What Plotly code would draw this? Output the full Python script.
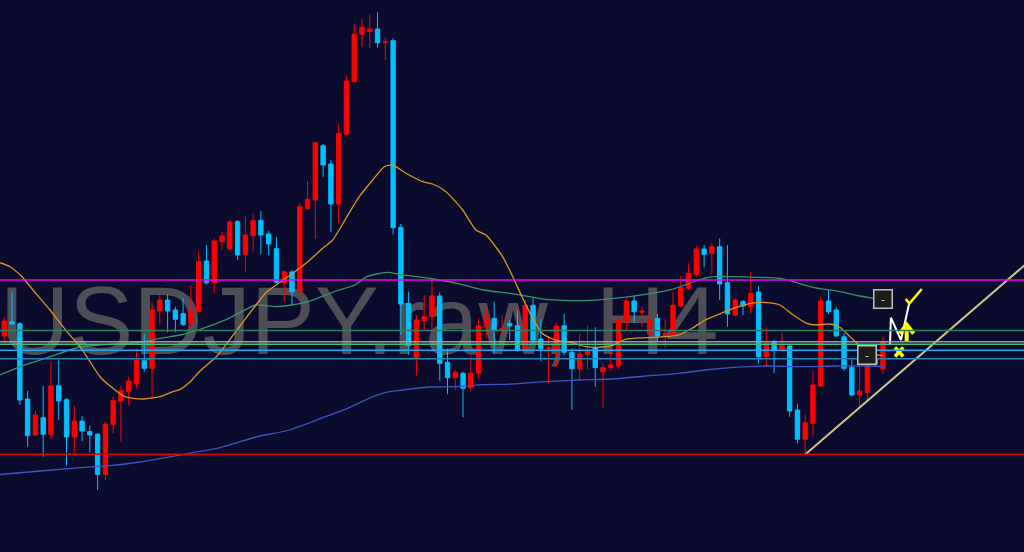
import plotly.graph_objects as go

# ---------------- data ----------------
opens = [148.640,148.783,148.763,148.010,147.650,147.823,147.657,148.143,148.003,147.630,
         147.790,147.683,147.657,147.257,147.757,147.990,148.083,148.160,148.393,148.317,
         148.890,149.000,148.900,148.863,148.767,148.883,149.390,149.173,149.583,149.513,
         149.783,149.457,149.643,149.797,149.660,149.513,149.173,149.280,149.083,149.917,
         150.000,150.543,150.360,149.960,150.660,151.183,151.657,151.683,151.710,151.573,
         151.593,149.727,148.967,148.417,148.793,148.833,149.040,148.377,148.223,148.267,
         148.123,148.267,148.740,148.817,148.700,148.767,148.743,148.500,148.947,148.610,
         148.513,148.517,148.743,148.477,148.310,148.457,148.523,148.283,148.323,148.340,
         148.793,148.990,148.877,148.660,148.817,148.640,148.650,148.940,149.117,149.257,
         149.510,149.467,149.533,149.173,148.850,148.983,148.933,149.080,148.433,148.577,
         148.510,148.540,147.900,147.607,147.767,148.140,148.990,148.900,148.633,148.327,
         148.050,148.077,148.420,148.310]
highs = [148.823,149.083,148.780,148.093,147.890,148.140,148.390,148.397,148.020,147.940,
         147.840,147.743,147.670,147.783,148.033,148.143,148.233,148.510,148.660,148.977,
         149.067,149.057,148.933,149.020,149.150,149.483,149.550,149.617,149.683,149.800,
         149.800,149.840,149.867,149.890,149.690,149.630,149.293,149.300,149.973,150.190,
         150.580,150.560,150.400,150.757,151.250,151.757,151.810,151.857,151.877,151.627,
         151.617,149.760,149.083,148.850,149.050,149.210,149.077,148.517,148.300,148.283,
         148.433,148.817,148.917,148.983,148.850,148.800,148.900,149.000,149.023,148.807,
         148.640,148.767,148.860,148.517,148.660,148.740,148.727,148.373,148.550,148.827,
         149.027,149.040,148.933,148.927,148.860,148.807,149.083,149.240,149.367,149.540,
         149.550,149.567,149.617,149.550,149.017,149.000,149.283,149.140,148.727,148.600,
         148.673,148.550,147.960,147.850,148.290,149.033,149.100,148.927,148.667,148.407,
         148.367,148.517,148.480,148.633]
lows = [148.573,148.750,147.950,147.533,147.640,147.433,147.610,147.800,147.343,147.457,
        147.590,147.473,147.100,147.200,147.667,147.583,147.950,148.123,148.283,148.017,
        148.757,148.677,148.677,148.740,148.690,148.875,149.157,149.067,149.500,149.500,
        149.400,149.273,149.483,149.457,149.450,149.167,148.983,148.950,149.000,149.900,
        149.610,150.233,149.680,149.767,150.650,151.177,151.533,151.517,151.523,151.400,
        149.657,148.650,148.450,148.243,148.710,148.700,148.193,148.057,148.100,147.827,
        148.083,148.217,148.617,148.467,148.650,148.600,148.483,148.483,148.573,148.390,
        148.167,148.333,148.450,147.900,148.200,148.307,148.133,147.923,148.293,148.310,
        148.700,148.773,148.733,148.617,148.583,148.517,148.640,148.927,149.100,149.233,
        149.327,149.267,149.000,148.733,148.833,148.850,148.867,148.367,148.333,148.267,
        148.483,147.833,147.567,147.460,147.650,148.133,148.860,148.633,148.293,148.033,
        147.940,148.000,148.340,148.260]
closes = [148.790,148.760,148.000,147.643,147.850,147.657,148.140,147.990,147.630,147.790,
          147.690,147.650,147.257,147.760,147.993,148.093,148.190,148.397,148.317,148.900,
          149.000,148.890,148.807,148.757,148.890,149.383,149.173,149.590,149.640,149.780,
          149.450,149.650,149.793,149.650,149.560,149.177,149.283,149.083,149.933,150.007,
          150.573,150.350,149.960,150.667,151.190,151.657,151.727,151.710,151.573,151.583,
          149.723,148.960,148.543,148.800,148.833,149.040,148.367,148.223,148.277,148.117,
          148.267,148.743,148.817,148.697,148.717,148.740,148.500,148.947,148.600,148.517,
          148.523,148.740,148.477,148.313,148.460,148.490,148.323,148.323,148.350,148.800,
          148.990,148.883,148.890,148.810,148.640,148.667,148.947,149.123,149.267,149.510,
          149.457,149.533,149.160,148.860,149.000,148.940,149.067,148.433,148.567,148.500,
          148.550,147.890,147.607,147.773,148.150,148.990,148.883,148.640,148.317,148.050,
          148.090,148.400,148.360,148.583]
bars = list(range(len(opens)))

# moving averages (bar position, value)
ma_fast_x = [-0.55,0.73,2.28,3.69,5.88,8.06,9.73,11.02,12.31,13.98,15.52,17.71,20.02,21.69,22.60,
             23.88,25.17,27.35,30.31,32.37,33.65,36.61,38.80,40.95,42.23,43.94,45.65,47.38,48.87,
             49.95,51.66,53.81,55.09,56.80,58.95,60.66,61.95,64.09,65.29,66.58,67.86,69.15,70.86,
             73.01,74.72,76.44,78.15,79.86,82.43,85.01,86.73,88.44,90.15,91.87,94.45,96.58,98.21,
             99.76,101.47,103.19,104.48,106.19,107.47,108.76,110.05,111.33,113.0]
ma_fast_y = [149.373,149.333,149.233,149.100,148.900,148.683,148.533,148.383,148.233,148.117,148.033,
             148.010,148.033,148.083,148.107,148.180,148.290,148.440,148.740,148.950,149.073,149.240,
             149.367,149.517,149.600,149.817,150.033,150.200,150.333,150.350,150.267,150.183,150.160,
             150.083,149.900,149.700,149.650,149.433,149.250,149.033,148.833,148.667,148.600,148.573,
             148.533,148.527,148.543,148.607,148.623,148.633,148.650,148.717,148.800,148.857,148.933,
             148.973,148.973,148.950,148.850,148.767,148.750,148.760,148.727,148.633,148.540,148.467,
             148.443]
ma_mid_x = [-0.55,2.02,5.88,9.73,13.59,17.45,20.02,22.60,25.17,28.60,32.37,34.81,36.96,39.09,42.66,
            45.10,46.61,49.18,50.89,55.17,58.18,61.60,65.03,67.60,69.57,74.72,78.15,82.43,85.87,
            89.30,91.14,93.75,96.58,99.76,101.47,104.04,107.47,110.05,111.76,113.0]
ma_mid_y = [148.250,148.333,148.433,148.530,148.557,148.575,148.617,148.650,148.707,148.807,148.950,
            148.933,148.950,148.983,149.090,149.150,149.233,149.277,149.257,149.210,149.167,149.100,
            149.067,149.033,149.007,148.993,149.013,149.057,149.107,149.200,149.233,149.233,149.227,
            149.217,149.183,149.127,149.083,149.040,149.017,149.005]
ma_slow_x = [-0.55,4.59,9.73,13.59,17.45,22.60,27.74,32.37,36.65,40.95,44.37,47.38,49.51,51.23,54.66,
             58.09,61.52,65.29,69.57,73.86,78.15,82.43,86.73,90.15,93.75,98.04,102.33,106.61,110.90,113.0]
ma_slow_y = [147.255,147.290,147.323,147.343,147.380,147.450,147.523,147.630,147.700,147.823,147.923,
             148.033,148.083,148.100,148.130,148.133,148.153,148.160,148.183,148.200,148.210,148.240,
             148.267,148.300,148.327,148.340,148.333,148.340,148.340,148.335]

# horizontal levels
hline_prices = [149.200, 148.695, 148.583, 148.557, 148.497, 148.412, 147.457]
hline_colors = ["#ee00ee", "#2e8060", "#9e9e9e", "#3fc07a", "#1eaaf0", "#1f87b5", "#e00000"]

# trend line (bar, price)
trend_x = [103, 132]
trend_y = [147.455, 149.400]

# drawn objects near the last bars (bar, price)
zig_x = [113.91, 114.02, 115.32, 116.40]
zig_y = [148.560, 148.823, 148.600, 148.975]
check_x = [115.93, 116.40, 118.0]
check_y = [149.010, 148.965, 149.110]
arrow_shaft_x = [116.05, 116.05]
arrow_shaft_y = [148.583, 148.740]
arrow_head_x = [115.15, 116.05, 116.95]
arrow_head_y = [148.665, 148.752, 148.665]
cross_x = [114.55, 115.60]
cross_y = [148.527, 148.435]
boxes_x = [113.0, 111.0]
boxes_y = [149.010, 148.455]

watermark = "USDJPY.raw, H4"

BG = "#0b0b2e"
UP = "#ff0000"
DN = "#00bfff"

fig = go.Figure()

# watermark on base axes (drawn below everything else)
fig.add_trace(go.Scatter(x=[0], y=[0.402], mode="text", text=[watermark],
                         textposition="middle right",
                         textfont=dict(family="Liberation Sans, Arial", size=96, color="#4e4e57"),
                         hoverinfo="skip", xaxis="x", yaxis="y"))

fig.add_trace(go.Candlestick(x=bars, open=opens, high=highs, low=lows, close=closes,
                             increasing=dict(line=dict(color=UP, width=1), fillcolor=UP),
                             decreasing=dict(line=dict(color=DN, width=1), fillcolor=DN),
                             whiskerwidth=0, hoverinfo="skip", xaxis="x2", yaxis="y2"))

for xs, ys, col in [(ma_slow_x, ma_slow_y, "#3a55c0"),
                    (ma_mid_x, ma_mid_y, "#34946a"),
                    (ma_fast_x, ma_fast_y, "#d8961e")]:
    fig.add_trace(go.Scatter(x=xs, y=ys, mode="lines",
                             line=dict(color=col, width=1.3, shape="spline", smoothing=0.6),
                             hoverinfo="skip", xaxis="x2", yaxis="y2"))

fig.add_trace(go.Scatter(x=trend_x, y=trend_y, mode="lines",
                         line=dict(color="#cdc48c", width=2), hoverinfo="skip",
                         xaxis="x2", yaxis="y2"))

fig.add_trace(go.Scatter(x=zig_x, y=zig_y, mode="lines", line=dict(color="#ffffff", width=2),
                         hoverinfo="skip", xaxis="x2", yaxis="y2"))
fig.add_trace(go.Scatter(x=check_x, y=check_y, mode="lines", line=dict(color="#ffff00", width=2.5),
                         hoverinfo="skip", xaxis="x2", yaxis="y2"))
fig.add_trace(go.Scatter(x=arrow_shaft_x, y=arrow_shaft_y, mode="lines",
                         line=dict(color="#ffff00", width=4), hoverinfo="skip",
                         xaxis="x2", yaxis="y2"))
fig.add_trace(go.Scatter(x=arrow_head_x, y=arrow_head_y, mode="lines",
                         line=dict(color="#ffff00", width=4), hoverinfo="skip",
                         xaxis="x2", yaxis="y2"))
fig.add_trace(go.Scatter(x=cross_x, y=cross_y, mode="lines", line=dict(color="#ffff00", width=3.5),
                         hoverinfo="skip", xaxis="x2", yaxis="y2"))
fig.add_trace(go.Scatter(x=cross_x, y=cross_y[::-1], mode="lines", line=dict(color="#ffff00", width=3.5),
                         hoverinfo="skip", xaxis="x2", yaxis="y2"))

shapes = []
for p, c in zip(hline_prices, hline_colors):
    shapes.append(dict(type="line", xref="paper", x0=0, x1=1, yref="y2", y0=p, y1=p,
                       line=dict(color=c, width=1.5), layer="above"))

annotations = []
for bx, by in zip(boxes_x, boxes_y):
    annotations.append(dict(x=bx, y=by, xref="x2", yref="y2", text="-", showarrow=False,
                            font=dict(family="DejaVu Sans", size=11, color="#d8d8d8"),
                            bgcolor="#1c1c1c", bordercolor="#c0c0c0", borderwidth=1.5,
                            borderpad=0, width=17, height=17))

fig.update_layout(
    width=1024, height=552,
    margin=dict(l=0, r=0, t=0, b=0),
    paper_bgcolor=BG, plot_bgcolor=BG,
    showlegend=False, hovermode=False,
    boxgap=0.44, boxgroupgap=0,
    xaxis=dict(visible=False, range=[0, 1], fixedrange=True),
    yaxis=dict(visible=False, range=[0, 1], fixedrange=True),
    xaxis2=dict(visible=False, range=[-0.553, 131.14], overlaying="x",
                rangeslider=dict(visible=False), fixedrange=True),
    yaxis2=dict(visible=False, range=[146.48, 152.0], overlaying="y", fixedrange=True),
    shapes=shapes, annotations=annotations,
)

fig.write_html("out.html", config={"displayModeBar": False},
               post_script="document.body.style.margin='0';document.body.style.overflow='hidden';")
